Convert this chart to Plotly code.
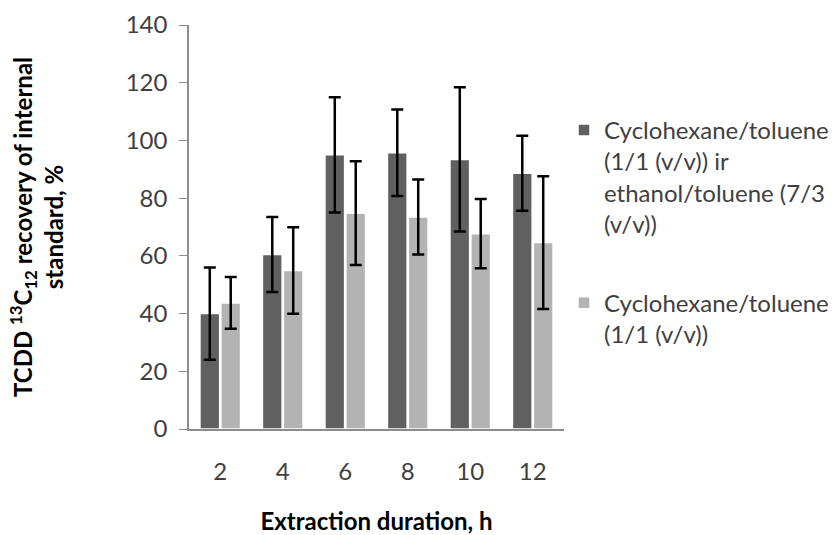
import plotly.graph_objects as go

durations = ["2", "4", "6", "8", "10", "12"]
mixed_vals = [40, 60.5, 95, 95.7, 93.4, 88.6]
mixed_err = [16, 13, 20, 15, 25, 13]
cyclo_vals = [43.7, 54.9, 74.8, 73.5, 67.7, 64.6]
cyclo_err = [9, 15, 18, 13, 12, 23]

names = ["Cyclohexane/toluene<br>(1/1 (v/v)) ir<br>ethanol/toluene (7/3<br>(v/v))",
         "Cyclohexane/toluene<br>(1/1 (v/v))"]
colors = ["#606060", "#b3b3b3"]

FONT = "Lato"

fig = go.Figure()
for i, (vals, errs) in enumerate([(mixed_vals, mixed_err), (cyclo_vals, cyclo_err)]):
    fig.add_trace(go.Bar(
        x=durations, y=vals, name=names[i], legendgroup=f"g{i}",
        marker=dict(color=colors[i], line=dict(color="white", width=1.5)),
        error_y=dict(type="data", array=errs, visible=True, color="black",
                     thickness=2.5, width=6),
    ))

fig.update_layout(
    width=835, height=535,
    margin=dict(l=189, r=271, t=25, b=106, autoexpand=False),
    paper_bgcolor="white", plot_bgcolor="white",
    font=dict(family=FONT, size=24, color="#404040"),
    barmode="group", bargap=0.33, bargroupgap=0.06,
    showlegend=True,
    legend=dict(x=1.0, xanchor="left", y=0.795, yanchor="top",
                traceorder="grouped", tracegroupgap=45, valign="top",
                font=dict(family=FONT, size=24, color="#404040"),
                itemwidth=30),
    xaxis=dict(type="category", showline=True, linecolor="#8c8c8c", linewidth=1.5,
               ticks="", showgrid=False, tickfont=dict(size=24), ticklabelstandoff=20,
               automargin=False,
               title=dict(text="<b>Extraction duration, h</b>", font=dict(size=24, color="#000000"),
                          standoff=30)),
    yaxis=dict(range=[0, 140], dtick=20, showline=True, linecolor="#8c8c8c", linewidth=1.5,
               ticks="outside", ticklen=8, tickcolor="#8c8c8c", showgrid=False,
               zeroline=False, tickfont=dict(size=24), ticklabelstandoff=7,
               automargin=False,
               title=dict(text="<b>TCDD <sup>13</sup>C<sub>12</sub> recovery of internal<br>standard, %</b>",
                          font=dict(size=24, color="#000000"), standoff=55)),
)

fig.write_html("out.html")
